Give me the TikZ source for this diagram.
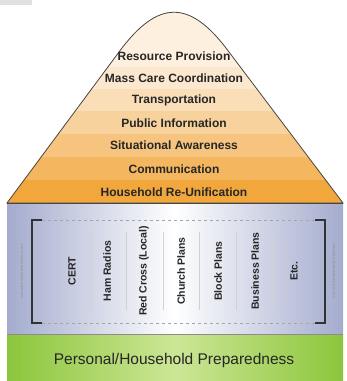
\documentclass[tikz,border=0pt]{standalone}
\usepackage{fontspec}
\setmainfont{Liberation Sans}
\usepackage{tikz}

\definecolor{bandorange}{RGB}{240,152,30}
\definecolor{planblue}{RGB}{164,172,206}
\definecolor{prepgreen}{RGB}{140,198,60}
\definecolor{preplight}{RGB}{204,230,150}
\definecolor{edgegray}{RGB}{72,68,64}

\tikzset{
  tier/.style={font=\fontsize{12}{14}\selectfont\bfseries, text=black!85, inner sep=0pt},
  planlabel/.style={rotate=90, font=\fontsize{10.5}{12}\selectfont\bfseries, text=black!85, inner sep=0pt},
  divider/.style={black!18, line width=.6pt},
  bracket/.style={black!80, line width=1.8pt},
  sidenote/.style={font=\fontsize{3.2}{4}\selectfont, text=black!45, inner sep=0pt},
}

\begin{document}
\begin{tikzpicture}[x=1pt, y=-1pt]
    \useasboundingbox (0,0) rectangle (347,381);
    \fill[black!12] (0,0) rectangle (32,5);
    % pyramid bands
    \begin{scope}
      \clip (7,203) -- (119,52) .. controls (158,-1) and (190,-1) .. (229,52) -- (343,203) -- cycle;
      \fill[bandorange!14] (0,0) rectangle (347,67);
      \fill[bandorange!22] (0,67) rectangle (347,89);
      \fill[bandorange!32] (0,89) rectangle (347,111);
      \fill[bandorange!44] (0,111) rectangle (347,134);
      \fill[bandorange!57] (0,134) rectangle (347,157);
      \fill[bandorange!71] (0,157) rectangle (347,180);
      \fill[bandorange!86] (0,180) rectangle (347,203);
    \end{scope}
    \draw[edgegray, line width=.8pt] (7,203) -- (119,52) .. controls (158,-1) and (190,-1) .. (229,52) -- (343,203) -- cycle;

    % plans and preparedness
    \shade[left color=planblue, right color=planblue, middle color=white] (7,203) rectangle (343,334);
    \shade[left color=prepgreen, right color=prepgreen, middle color=preplight] (7,334) rectangle (343,381);
    \draw[edgegray, line width=1pt] (7,203) -- (343,203);
    \draw[black!45, line width=.6pt] (7,334) -- (343,334);

    \node[tier] (resource) at (174,56) {Resource Provision};
    \node[tier] (masscare) at (174,78) {Mass Care Coordination};
    \node[tier] (transport) at (174,100) {Transportation};
    \node[tier] (publicinfo) at (174,123) {Public Information};
    \node[tier] (awareness) at (174,145) {Situational Awareness};
    \node[tier] (communication) at (174,169) {Communication};
    \node[tier] (reunify) at (174,192) {Household Re-Unification};

    \draw[black!35, dashed] (42,220) -- (315,220);
    \draw[black!35, dashed] (42,323) -- (315,323);
    \draw[bracket] (42,220) -- (32,220) -- (32,323) -- (42,323);
    \draw[bracket] (315,220) -- (325,220) -- (325,323) -- (315,323);

    \draw[divider] (91,232) -- (91,310);
    \draw[divider] (126,232) -- (126,310);
    \draw[divider] (163,232) -- (163,310);
    \draw[divider] (199,232) -- (199,310);
    \draw[divider] (236,232) -- (236,310);
    \draw[divider] (273,232) -- (273,310);

    \node[planlabel] (cert) at (72,271) {CERT};
    \node[planlabel] (ham) at (107,271) {Ham Radios};
    \node[planlabel] (redcross) at (144,271) {Red Cross (Local)};
    \node[planlabel] (church) at (181,271) {Church Plans};
    \node[planlabel] (block) at (218,271) {Block Plans};
    \node[planlabel] (business) at (255,271) {Business Plans};
    \node[planlabel] (etc) at (294,271) {Etc.};

    \node[sidenote, rotate=90] (leftnote) at (22,271) {VARIABLE NEIGHBORHOOD PLANS};
    \node[sidenote, rotate=-90] (rightnote) at (334,271) {VARIABLE NEIGHBORHOOD PLANS};

    \node[font=\fontsize{15.5}{18}\selectfont, text=black!85] (prep) at (174,360) {Personal/Household Preparedness};
\end{tikzpicture}
\end{document}
